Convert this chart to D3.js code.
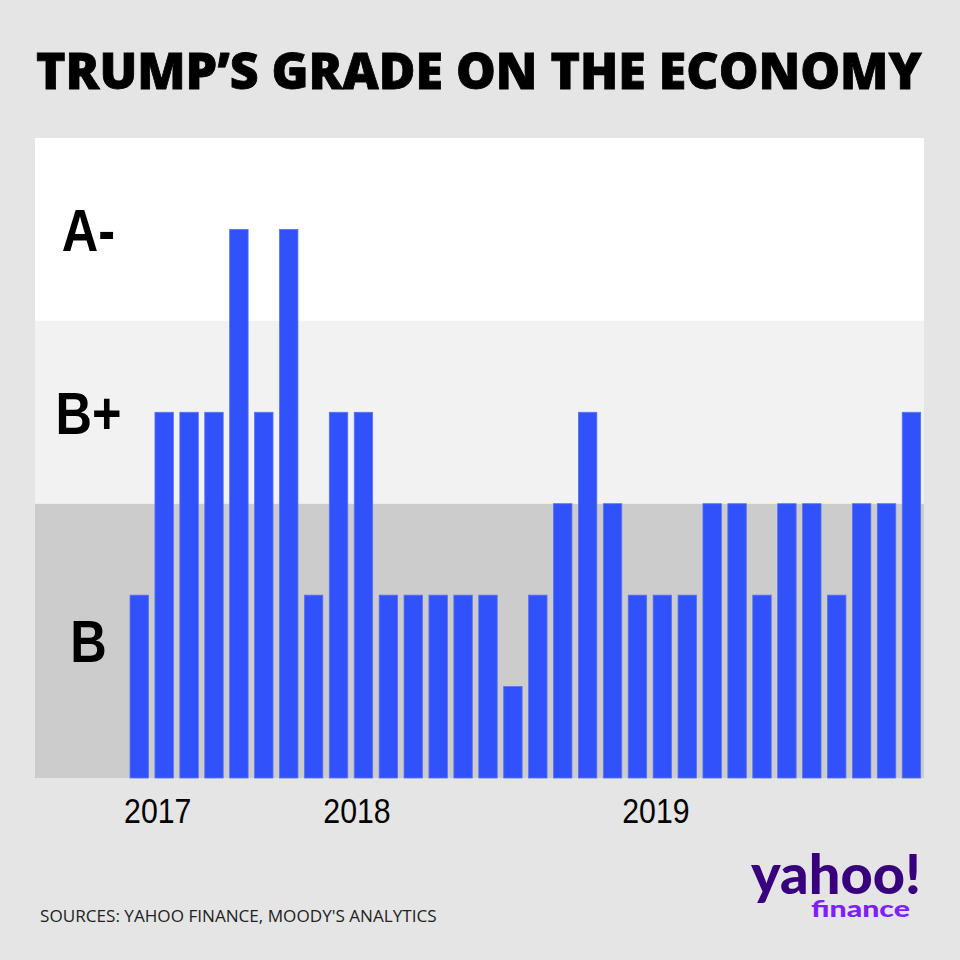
<!DOCTYPE html>
<html>
<head>
<meta charset="utf-8">
<script src="https://cdn.jsdelivr.net/npm/d3@7"></script>
<style>
  html, body { margin: 0; padding: 0; background: #e5e5e5; }
  svg { display: block; }
</style>
</head>
<body>
<svg id="chart" width="960" height="960"></svg>
<script>
// ---- Data ----
const months = ["2017-05","2017-06","2017-07","2017-08","2017-09","2017-10","2017-11","2017-12",
  "2018-01","2018-02","2018-03","2018-04","2018-05","2018-06","2018-07","2018-08","2018-09","2018-10","2018-11","2018-12",
  "2019-01","2019-02","2019-03","2019-04","2019-05","2019-06","2019-07","2019-08","2019-09","2019-10","2019-11","2019-12"];
// grade score on a 0..7 scale (B band 0-3, B+ band 3-5, A- band 5-7)
const scores = [2,4,4,4,6,4,6,2, 4,4,2,2,2,2,2,1,2,3,4,3, 2,2,2,3,3,2,3,3,2,3,3,4];
const gradeNames = ["B","B+","A-"];
const gradeLow = [0,3,5];
const gradeHigh = [3,5,7];
const gradeColors = ["#cccccc","#f2f2f2","#ffffff"];
const yearLabels = ["2017","2018","2019"];
const yearStartMonths = ["2017-05","2018-01","2019-01"];
const titleText = "TRUMP\u2019S GRADE ON THE ECONOMY";
const sourceText = "SOURCES: YAHOO FINANCE, MOODY'S ANALYTICS";

// ---- Layout ----
const svg = d3.select("#chart");
svg.append("rect").attr("width",960).attr("height",960).attr("fill","#e5e5e5");

const panel = {left: 35, right: 924, top: 138, bottom: 778};

const x = d3.scaleBand().domain(months).range([126.8, 923.9]).paddingInner(0.26).paddingOuter(0.13);
const y = d3.scaleLinear().domain([0,7]).range([panel.bottom, panel.top]);

// grade bands
const bands = svg.append("g");
gradeNames.forEach((g,i) => {
  bands.append("rect")
    .attr("x", panel.left).attr("width", panel.right - panel.left)
    .attr("y", y(gradeHigh[i])).attr("height", y(gradeLow[i]) - y(gradeHigh[i]))
    .attr("fill", gradeColors[i]);
});
// condensed grade labels (horizontal compression to mimic a narrow bold face)
const gradeFont = "'Liberation Sans','Arial',sans-serif";
const probe = svg.append("text").attr("font-family",gradeFont).attr("font-weight","bold")
  .attr("font-size",59).text("B+");
const gradeScale = 66 / probe.node().getComputedTextLength();
probe.remove();
gradeNames.forEach((g,i) => {
  const cy = (y(gradeHigh[i]) + y(gradeLow[i]))/2 + 21.5;
  bands.append("text")
    .attr("transform", `translate(88.5,${cy}) scale(${gradeScale},1)`)
    .attr("text-anchor","middle")
    .attr("font-family",gradeFont)
    .attr("font-weight","bold").attr("font-size",59).attr("fill","#000")
    .text(g);
});

// bars
svg.append("g").selectAll("rect").data(months).join("rect")
  .attr("x", d => x(d)).attr("width", x.bandwidth())
  .attr("y", (d,i) => y(scores[i])).attr("height", (d,i) => y(0) - y(scores[i]))
  .attr("fill","#3151fa").attr("stroke","#5a72f2").attr("stroke-width",0.8);

// year labels (narrow)
const yProbe = svg.append("text").attr("font-family",gradeFont).attr("font-size",36).text("2017");
const yearScale = 67.4 / yProbe.node().getComputedTextLength();
yProbe.remove();
svg.append("g").selectAll("text").data(yearLabels).join("text")
  .attr("transform", (d,i) => `translate(${x(yearStartMonths[i]) - 6},822.5) scale(${yearScale},1)`)
  .attr("font-family",gradeFont)
  .attr("font-size",36).attr("fill","#000")
  .text(d => d);

// title
const title = svg.append("text")
  .attr("x", 36).attr("y", 89)
  .attr("font-family","'Open Sans',sans-serif").attr("font-weight",800)
  .attr("font-size",54).attr("fill","#000")
  .attr("stroke","#000").attr("stroke-width",0.8)
  .text(titleText);
const tw = title.node().getComputedTextLength();
title.attr("font-size", 54 * 886 / tw);

// source
const src = svg.append("text")
  .attr("x", 40).attr("y", 922)
  .attr("font-family","'Open Sans',sans-serif")
  .attr("font-size",18).attr("fill","#222")
  .text(sourceText);
const sw = src.node().getComputedTextLength();
src.attr("font-size", 18 * 397 / sw);

// logo
const logoFont = "'Lato','Inter',sans-serif";
const yah = svg.append("text")
  .attr("font-family",logoFont).attr("font-weight",900)
  .attr("font-size",56).attr("fill","#39007d")
  .text("yahoo!");
const yw = yah.node().getComputedTextLength();
yah.attr("transform", `translate(751,894) scale(${170 / yw},1)`);
const fin = svg.append("text")
  .attr("font-family",logoFont).attr("font-weight",900)
  .attr("font-size",23).attr("fill","#7e1fff")
  .text("finance");
const fw = fin.node().getComputedTextLength();
fin.attr("transform", `translate(811,917) scale(${99 / fw},1)`);
</script>
</body>
</html>
